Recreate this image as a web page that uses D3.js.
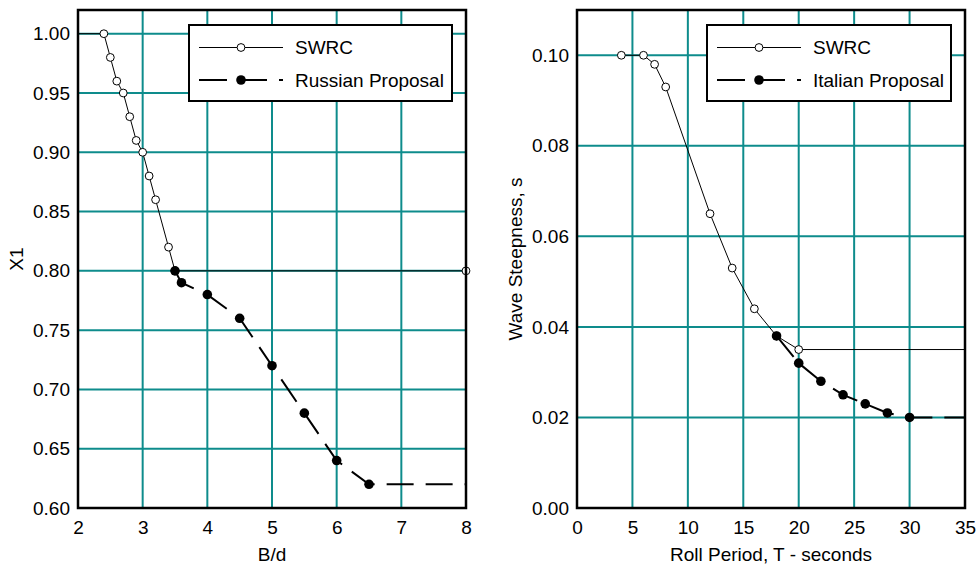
<!DOCTYPE html>
<html>
<head>
<meta charset="utf-8">
<script src="https://cdn.jsdelivr.net/npm/d3@7"></script>
<style>
  html, body { margin: 0; padding: 0; background: #fff; }
  svg { display: block; font-family: Arial, "Liberation Sans", Helvetica, sans-serif; }
</style>
</head>
<body>
<svg id="chart" width="980" height="566"></svg>
<script>
// ---- Left panel: X1 versus B/d ----
const swrcBdX  = [2.4, 2.5, 2.6, 2.7, 2.8, 2.9, 3.0, 3.1, 3.2, 3.4, 3.5, 8.0];
const swrcBdY  = [1.00, 0.98, 0.96, 0.95, 0.93, 0.91, 0.90, 0.88, 0.86, 0.82, 0.80, 0.80];
const swrcBdLead = [2.0, 1.00];            // unmarked start of the SWRC curve
const russianX = [3.5, 3.6, 4.0, 4.5, 5.0, 5.5, 6.0, 6.5];
const russianY = [0.80, 0.79, 0.78, 0.76, 0.72, 0.68, 0.64, 0.62];
const russianTail = [8.0, 0.62];           // unmarked continuation to the right edge
const leftXTicks = [2, 3, 4, 5, 6, 7, 8];
const leftYTicks = [0.60, 0.65, 0.70, 0.75, 0.80, 0.85, 0.90, 0.95, 1.00];

// ---- Right panel: wave steepness versus roll period ----
const swrcTX = [4, 6, 7, 8, 12, 14, 16, 18, 20];
const swrcTY = [0.100, 0.100, 0.098, 0.093, 0.065, 0.053, 0.044, 0.038, 0.035];
const swrcTTail = [35, 0.035];
const italianX = [18, 20, 22, 24, 26, 28, 30];
const italianY = [0.038, 0.032, 0.028, 0.025, 0.023, 0.021, 0.020];
const italianTail = [35, 0.020];
const rightXTicks = [0, 5, 10, 15, 20, 25, 30, 35];
const rightYTicks = [0.00, 0.02, 0.04, 0.06, 0.08, 0.10];

const GRID = "#0e8c8c";
const FONT = 19;
const svg = d3.select("#chart");

function panel(cfg) {
  const g = svg.append("g");
  const x = d3.scaleLinear().domain(cfg.xDomain).range([cfg.left, cfg.right]);
  const y = d3.scaleLinear().domain(cfg.yDomain).range([cfg.bottom, cfg.top]);

  // grid
  g.append("g").selectAll("line").data(cfg.xTicks).join("line")
    .attr("x1", d => x(d)).attr("x2", d => x(d))
    .attr("y1", cfg.top).attr("y2", cfg.bottom)
    .attr("stroke", GRID).attr("stroke-width", 2);
  g.append("g").selectAll("line").data(cfg.yTicks).join("line")
    .attr("x1", cfg.left).attr("x2", cfg.right)
    .attr("y1", d => y(d)).attr("y2", d => y(d))
    .attr("stroke", GRID).attr("stroke-width", 2);

  const line = d3.line().x(d => x(d[0])).y(d => y(d[1]));

  // reference curve (thin, open markers)
  const refPts = cfg.refX.map((v, i) => [v, cfg.refY[i]]);
  const refPath = (cfg.refLead ? [cfg.refLead] : []).concat(refPts, cfg.refTail ? [cfg.refTail] : []);
  g.append("path").datum(refPath).attr("d", line)
    .attr("fill", "none").attr("stroke", "#000").attr("stroke-width", 1);

  // proposal curve (thick dashed, filled markers)
  const propPts = cfg.propX.map((v, i) => [v, cfg.propY[i]]);
  g.append("path").datum(propPts.concat([cfg.propTail])).attr("d", line)
    .attr("fill", "none").attr("stroke", "#000").attr("stroke-width", 2)
    .attr("stroke-dasharray", "27 12");

  g.append("g").selectAll("circle").data(refPts).join("circle")
    .attr("cx", d => x(d[0])).attr("cy", d => y(d[1])).attr("r", 3.9)
    .attr("fill", "#fff").attr("stroke", "#000").attr("stroke-width", 1);
  g.append("g").selectAll("circle").data(propPts).join("circle")
    .attr("cx", d => x(d[0])).attr("cy", d => y(d[1])).attr("r", 4.8)
    .attr("fill", "#000");

  // frame
  g.append("rect").attr("x", cfg.left).attr("y", cfg.top)
    .attr("width", cfg.right - cfg.left).attr("height", cfg.bottom - cfg.top)
    .attr("fill", "none").attr("stroke", "#000").attr("stroke-width", 2.5);

  // axes (labels only)
  const xAxis = g.append("g").attr("transform", `translate(0,${cfg.bottom})`)
    .call(d3.axisBottom(x).tickValues(cfg.xTicks).tickSize(0).tickPadding(13).tickFormat(d3.format("d")));
  const yAxis = g.append("g").attr("transform", `translate(${cfg.left},0)`)
    .call(d3.axisLeft(y).tickValues(cfg.yTicks).tickSize(0).tickPadding(8).tickFormat(d3.format(".2f")));
  [xAxis, yAxis].forEach(a => {
    a.select(".domain").remove();
    a.selectAll("text").attr("font-size", FONT).attr("font-family", null).attr("fill", "#000");
  });

  // axis titles
  g.append("text").attr("x", (cfg.left + cfg.right) / 2).attr("y", 561)
    .attr("text-anchor", "middle").attr("font-size", FONT).text(cfg.xTitle);
  g.append("text")
    .attr("transform", `translate(${cfg.left - 55},${(cfg.top + cfg.bottom) / 2}) rotate(-90)`)
    .attr("text-anchor", "middle").attr("font-size", FONT).text(cfg.yTitle);

  // legend
  const L = cfg.legend;
  g.append("rect").attr("x", L.x).attr("y", 25).attr("width", L.w).attr("height", 76)
    .attr("fill", "#fff").attr("stroke", "#000").attr("stroke-width", 2);
  const sx0 = L.x + 10, sx1 = L.x + 94, mid = L.x + 52;
  g.append("line").attr("x1", sx0).attr("x2", sx1).attr("y1", 47.5).attr("y2", 47.5)
    .attr("stroke", "#000").attr("stroke-width", 1);
  g.append("circle").attr("cx", mid).attr("cy", 47.5).attr("r", 3.9)
    .attr("fill", "#fff").attr("stroke", "#000").attr("stroke-width", 1);
  g.append("line").attr("x1", sx0).attr("x2", sx1).attr("y1", 80).attr("y2", 80)
    .attr("stroke", "#000").attr("stroke-width", 2).attr("stroke-dasharray", "28 12");
  g.append("circle").attr("cx", mid).attr("cy", 80).attr("r", 4.8).attr("fill", "#000");
  g.append("text").attr("x", L.x + 106).attr("y", 47.5).attr("dy", "0.35em")
    .attr("font-size", FONT).text("SWRC");
  g.append("text").attr("x", L.x + 106).attr("y", 80).attr("dy", "0.35em")
    .attr("font-size", FONT).text(L.label);
}

panel({
  left: 78, right: 466, top: 10, bottom: 508,
  xDomain: [2, 8], yDomain: [0.60, 1.02],
  xTicks: leftXTicks, yTicks: leftYTicks,
  refX: swrcBdX, refY: swrcBdY, refLead: swrcBdLead,
  propX: russianX, propY: russianY, propTail: russianTail,
  xTitle: "B/d", yTitle: "X1",
  legend: { x: 189, w: 263, label: "Russian Proposal" }
});

panel({
  left: 577, right: 965, top: 10, bottom: 508,
  xDomain: [0, 35], yDomain: [0, 0.11],
  xTicks: rightXTicks, yTicks: rightYTicks,
  refX: swrcTX, refY: swrcTY, refTail: swrcTTail,
  propX: italianX, propY: italianY, propTail: italianTail,
  xTitle: "Roll Period, T - seconds", yTitle: "Wave Steepness, s",
  legend: { x: 707, w: 244, label: "Italian Proposal" }
});
</script>
</body>
</html>
